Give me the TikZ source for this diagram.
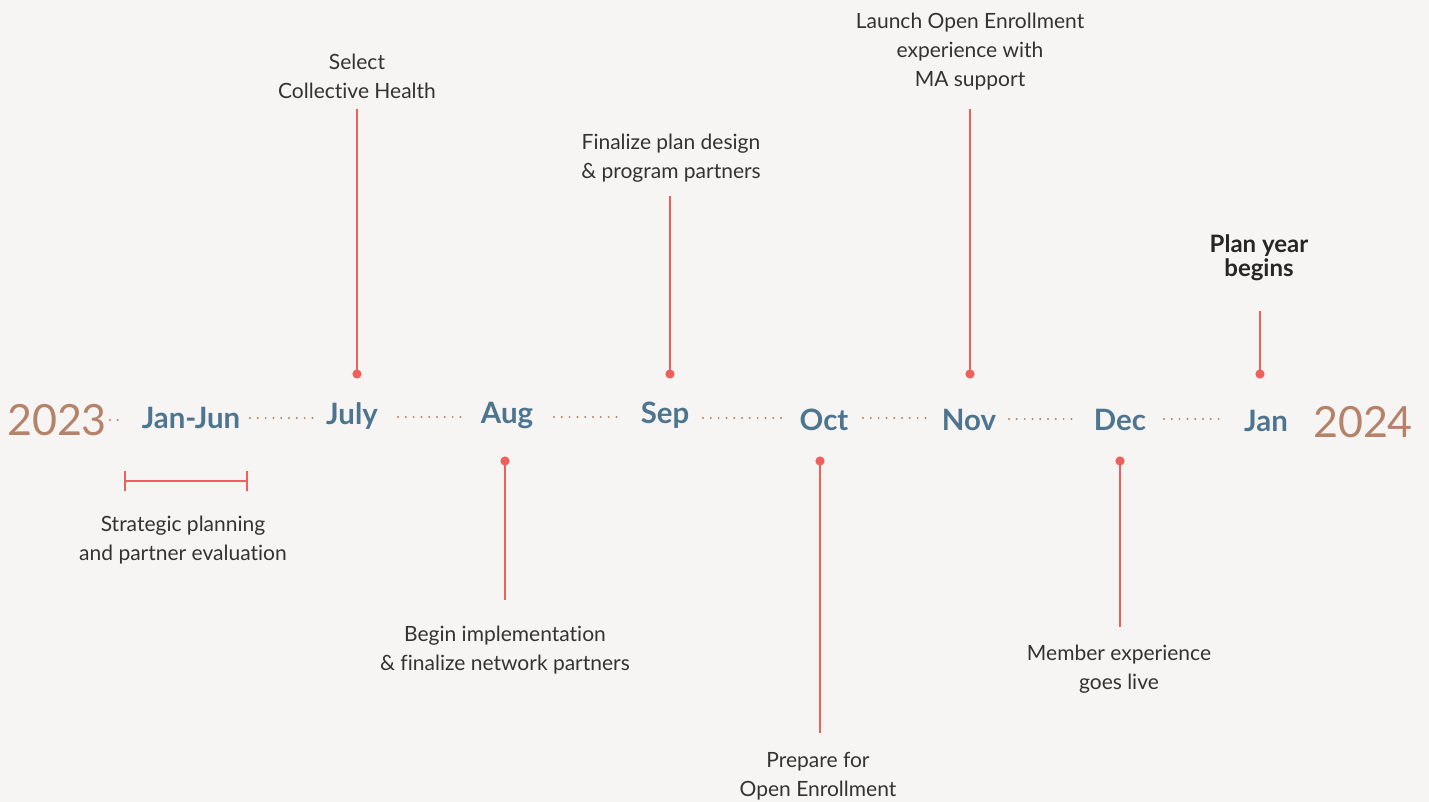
\documentclass[tikz,border=0pt]{standalone}
\usepackage{fontspec}
\setmainfont{Lato}[Ligatures={NoCommon}]
\definecolor{bg}{HTML}{F7F5F3}
\definecolor{tl}{HTML}{F0605A}
\definecolor{mon}{HTML}{4D7590}
\definecolor{yr}{HTML}{B5836A}
\definecolor{txt}{HTML}{333333}
\tikzset{
  month/.style={font=\fontsize{14.7}{16}\selectfont\bfseries, text=mon, inner sep=0pt},
  year/.style={font=\fontsize{21.5}{26}\selectfont, text=yr, inner sep=0pt},
  lbl/.style={font=\fontsize{10.5}{14.5}\selectfont, text=txt, align=center, inner sep=0pt},
  blbl/.style={font=\fontsize{12}{12}\selectfont\bfseries, text=black!85, align=center, inner sep=0pt},
  dots/.style={yr, line width=1.1pt, line cap=round, dash pattern=on 0pt off 3.9pt},
  stem/.style={tl, line width=1.1pt},
  pin/.style={circle, fill=tl, inner sep=0pt, minimum size=4.6pt},
}
\begin{document}
\begin{tikzpicture}[x=0.5pt,y=-0.5pt]
\fill[bg] (0,0) rectangle (1429,802);
\useasboundingbox (0,0) rectangle (1429,802);
% timeline labels
\node[year]  (y23) at (57,420) {2023};
\node[month] (jj)  at (191,418) {Jan-Jun};
\node[month] (jul) at (352,416) {July};
\node[month] (aug) at (507,416) {Aug};
\node[month] (sep) at (665,415) {Sep};
\node[month] (oct) at (824,420) {Oct};
\node[month] (nov) at (969,420) {Nov};
\node[month] (dec) at (1120,420) {Dec};
\node[month] (jan) at (1266,421) {Jan};
\node[year]  (y24) at (1363,422) {2024};
% dotted connectors
\coordinate (d1a) at (110,420); \coordinate (d1b) at (124,420);
\coordinate (d2a) at (250,418); \coordinate (d2b) at (318,418);
\coordinate (d3a) at (398,417); \coordinate (d3b) at (466,417);
\coordinate (d4a) at (554,417); \coordinate (d4b) at (624,417);
\coordinate (d5a) at (703,418); \coordinate (d5b) at (786,418);
\coordinate (d6a) at (863,418); \coordinate (d6b) at (932,418);
\coordinate (d7a) at (1009,419); \coordinate (d7b) at (1078,419);
\coordinate (d8a) at (1164,419); \coordinate (d8b) at (1225,419);
\foreach \i in {1,...,8} \draw[dots] (d\i a) -- (d\i b);
% Jan-Jun bracket
\coordinate (bl) at (125,481); \coordinate (br) at (247,481);
\draw[stem] (bl) -- (br);
\draw[stem] ([yshift=5pt]bl) -- ([yshift=-5pt]bl);
\draw[stem] ([yshift=5pt]br) -- ([yshift=-5pt]br);
\node[lbl] (ljj) at (183,540.5) {Strategic planning\\and partner evaluation};
% July
\node[pin] (pjul) at (357,374) {};
\coordinate (tjul) at (357,109);
\draw[stem] (pjul.center) -- (tjul);
\node[lbl] (ljul) at (357,76.5) {Select\\Collective Health};
% Aug
\node[pin] (paug) at (505,461) {};
\coordinate (taug) at (505,600);
\draw[stem] (paug.center) -- (taug);
\node[lbl] (laug) at (505,650) {Begin implementation\\\& finalize network partners};
% Sep
\node[pin] (psep) at (670,374) {};
\coordinate (tsep) at (670,196);
\draw[stem] (psep.center) -- (tsep);
\node[lbl] (lsep) at (671,158.5) {Finalize plan design\\\& program partners};
% Oct
\node[pin] (poct) at (820,461) {};
\coordinate (toct) at (820,733);
\draw[stem] (poct.center) -- (toct);
\node[lbl] (loct) at (818,776) {Prepare for\\Open Enrollment};
% Nov
\node[pin] (pnov) at (970,374) {};
\coordinate (tnov) at (970,109);
\draw[stem] (pnov.center) -- (tnov);
\node[lbl] (lnov) at (970,52) {Launch Open Enrollment\\experience with\\MA support};
% Dec
\node[pin] (pdec) at (1120,461) {};
\coordinate (tdec) at (1120,627);
\draw[stem] (pdec.center) -- (tdec);
\node[lbl] (ldec) at (1119,669.5) {Member experience\\goes live};
% Jan
\node[pin] (pjan) at (1260,374) {};
\coordinate (tjan) at (1260,311);
\draw[stem] (pjan.center) -- (tjan);
\node[blbl] (ljan) at (1259,258) {Plan year\\begins};
\end{tikzpicture}
\end{document}
